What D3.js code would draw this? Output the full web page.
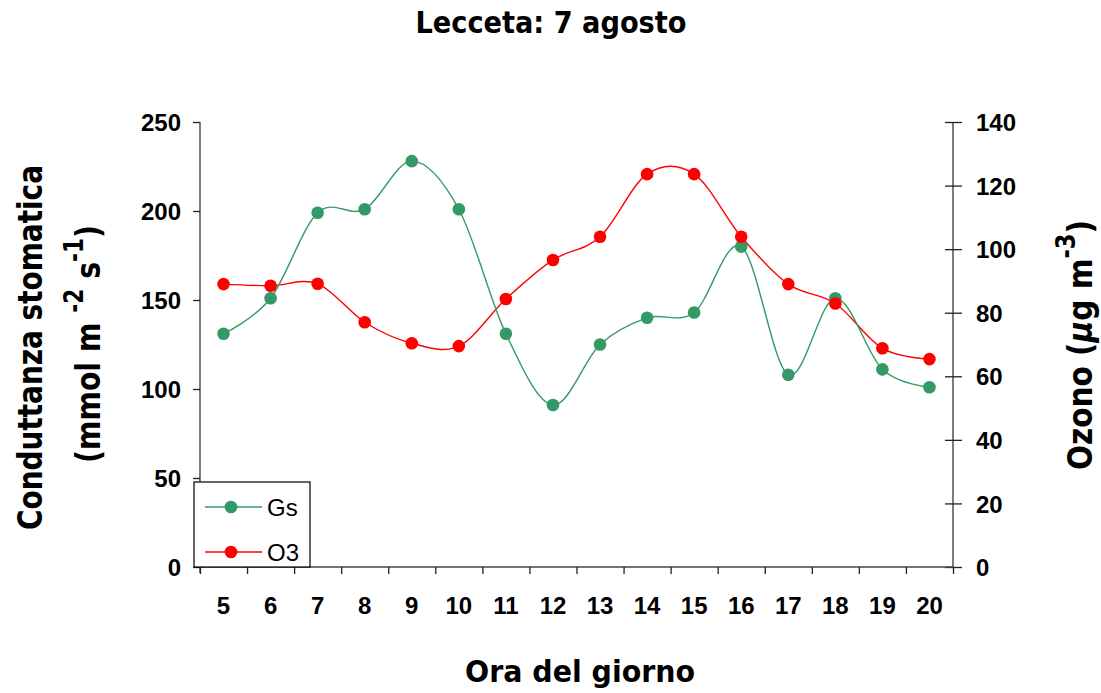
<!DOCTYPE html>
<html>
<head>
<meta charset="utf-8">
<script src="https://cdn.jsdelivr.net/npm/d3@7"></script>
<style>
  html, body { margin: 0; padding: 0; background: #fff; }
  svg { display: block; }
</style>
</head>
<body>
<svg id="chart" width="1101" height="693"></svg>
<script>
const hours = ["5","6","7","8","9","10","11","12","13","14","15","16","17","18","19","20"];
const gsValues = [131, 151, 199, 201, 228, 201, 131, 91, 125, 140, 143, 180, 108, 151, 111, 101];
const o3Values = [89.0, 88.5, 89.1, 77.0, 70.4, 69.5, 84.3, 96.6, 103.9, 123.6, 123.6, 103.9, 89.0, 82.9, 68.8, 65.4];
const leftTicks = [0, 50, 100, 150, 200, 250];
const rightTicks = [0, 20, 40, 60, 80, 100, 120, 140];
const seriesNames = ["Gs", "O3"];

const GREEN = "#339966", RED = "#ff0000";
const casual = "'Comic Sans MS', 'DejaVu Sans', sans-serif";
const arial = "'Liberation Sans', Arial, sans-serif";

const svg = d3.select("#chart");
const L = 200, R = 953, T = 122, B = 567;

const x = d3.scaleBand().domain(hours).range([L, R]);
const xb = d3.scaleLinear().domain([4.5, 20.5]).range([L, R]);
const yL = d3.scaleLinear().domain([0, 250]).range([B, T]);
const yR = d3.scaleLinear().domain([0, 140]).range([B, T]);

const axisColor = "#444";

// Left axis
const gL = svg.append("g").attr("transform", `translate(${L},0)`)
  .call(d3.axisLeft(yL).tickValues(leftTicks).tickSize(7).tickPadding(12));
// Right axis
const gR = svg.append("g").attr("transform", `translate(${R},0)`)
  .call(d3.axisRight(yR).tickValues(rightTicks).tickSize(9).tickPadding(14));
gR.selectAll(".tick line").attr("x1", -8).attr("x2", 9);
// Bottom axis: boundary ticks
const boundaries = d3.range(4.5, 21, 1);
const gB = svg.append("g").attr("transform", `translate(0,${B})`)
  .call(d3.axisBottom(xb).tickValues(boundaries).tickSize(7).tickFormat(""));
// Bottom labels
const gBL = svg.append("g").attr("transform", `translate(0,${B})`)
  .call(d3.axisBottom(x).tickSize(0).tickPadding(30));
gBL.select(".domain").remove();

[gL, gR, gB].forEach(g => {
  g.select(".domain").attr("stroke", axisColor).attr("stroke-width", 1.4)
    .attr("d", null);
});
gL.select(".domain").attr("d", `M0,${T}V${B + 6}`);
gR.select(".domain").attr("d", `M0,${T}V${B}`);
gB.select(".domain").attr("d", `M${L},0H${R}`);
svg.selectAll(".tick line").attr("stroke", "#222").attr("stroke-width", 1.3);
svg.selectAll(".tick text")
  .attr("font-family", arial).attr("font-weight", "bold").attr("font-size", 24)
  .attr("fill", "#000");
gL.selectAll(".tick text").attr("dy", "0.36em");
gR.selectAll(".tick text").attr("dy", "0.36em");
gBL.selectAll(".tick text").attr("dy", "0.71em");

// Lines
const curve = d3.curveCardinal.tension(0);
const gsData = hours.map((h, i) => ({h, v: gsValues[i]}));
const o3Data = hours.map((h, i) => ({h, v: o3Values[i]}));
const cx = d => x(d.h) + x.bandwidth() / 2;

svg.append("path").datum(o3Data)
  .attr("fill", "none").attr("stroke", RED).attr("stroke-width", 1.4)
  .attr("d", d3.line().x(cx).y(d => yR(d.v)).curve(curve));
svg.append("path").datum(gsData)
  .attr("fill", "none").attr("stroke", GREEN).attr("stroke-width", 1.4)
  .attr("d", d3.line().x(cx).y(d => yL(d.v)).curve(curve));

svg.append("g").selectAll("circle").data(gsData).join("circle")
  .attr("cx", cx).attr("cy", d => yL(d.v)).attr("r", 6.3).attr("fill", GREEN);
svg.append("g").selectAll("circle").data(o3Data).join("circle")
  .attr("cx", cx).attr("cy", d => yR(d.v)).attr("r", 6.3).attr("fill", RED);

// Legend
const lg = svg.append("g");
lg.append("rect").attr("x", 194).attr("y", 482).attr("width", 116).attr("height", 85)
  .attr("fill", "#fff").attr("stroke", "#000").attr("stroke-width", 1.2);
const legendColors = [GREEN, RED];
seriesNames.forEach((name, i) => {
  const yy = 507 + i * 45;
  lg.append("line").attr("x1", 205).attr("x2", 262).attr("y1", yy).attr("y2", yy)
    .attr("stroke", legendColors[i]).attr("stroke-width", 1.4);
  lg.append("circle").attr("cx", 231).attr("cy", yy).attr("r", 6.3).attr("fill", legendColors[i]);
  lg.append("text").attr("x", 267).attr("y", yy + 8.5)
    .attr("font-family", arial).attr("font-size", 24).attr("fill", "#000").text(name);
});

// Title
svg.append("text").attr("x", 551).attr("y", 33).attr("text-anchor", "middle")
  .attr("font-family", casual).attr("font-weight", "bold").attr("font-size", 30)
  .attr("textLength", 271).attr("lengthAdjust", "spacingAndGlyphs")
  .text("Lecceta: 7 agosto");

// X label
svg.append("text").attr("x", 580).attr("y", 682).attr("text-anchor", "middle")
  .attr("font-family", casual).attr("font-weight", "bold").attr("font-size", 31)
  .attr("textLength", 230).attr("lengthAdjust", "spacingAndGlyphs")
  .text("Ora del giorno");

// Left Y label line 1
svg.append("text").attr("transform", "translate(42,347.5) rotate(-90)")
  .attr("text-anchor", "middle")
  .attr("font-family", casual).attr("font-weight", "bold").attr("font-size", 34)
  .attr("textLength", 365).attr("lengthAdjust", "spacingAndGlyphs")
  .text("Conduttanza stomatica");

// Left Y label line 2
const t2 = svg.append("text").attr("transform", "translate(100,344) rotate(-90)")
  .attr("text-anchor", "middle")
  .attr("font-family", casual).attr("font-weight", "bold").attr("font-size", 34)
  .attr("textLength", 238).attr("lengthAdjust", "spacingAndGlyphs");
t2.append("tspan").text("(mmol m ");
t2.append("tspan").attr("dy", -17).attr("font-size", 26).text("-2");
t2.append("tspan").attr("dy", 17).text(" s");
t2.append("tspan").attr("dy", -17).attr("font-size", 26).text("-1");
t2.append("tspan").attr("dy", 17).text(")");

// Right Y label
const t3 = svg.append("text").attr("transform", "translate(1092,345) rotate(-90)")
  .attr("text-anchor", "middle")
  .attr("font-family", casual).attr("font-weight", "bold").attr("font-size", 34)
  .attr("textLength", 250).attr("lengthAdjust", "spacingAndGlyphs");
t3.append("tspan").text("Ozono (");
t3.append("tspan").attr("font-style", "italic").text("μ");
t3.append("tspan").text("g m");
t3.append("tspan").attr("dy", -17).attr("font-size", 26).text("-3");
t3.append("tspan").attr("dy", 17).text(")");
</script>
</body>
</html>
